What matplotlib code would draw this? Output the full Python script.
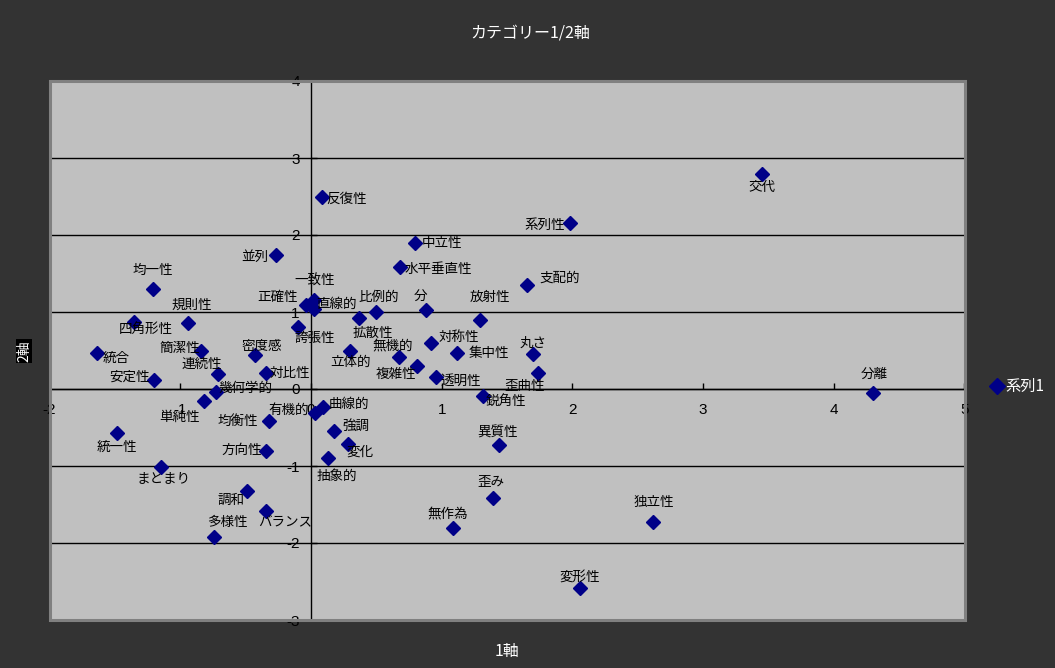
import matplotlib
matplotlib.use("Agg")
import matplotlib.pyplot as plt
from matplotlib.patches import Rectangle
from matplotlib.lines import Line2D

plt.rcParams["axes.unicode_minus"] = False

# --- data -------------------------------------------------------------
terms = [
    "交代", "系列性", "反復性", "中立性", "水平垂直性", "支配的", "並列", "均一性",
    "規則性", "四角形性", "一致性", "正確性", "直線的", "誇張性", "比例的", "拡散性",
    "分", "放射性", "対称性", "集中性", "丸さ", "歪曲性", "無機的", "立体的",
    "複雑性", "透明性", "鋭角性", "密度感", "簡潔性", "統合", "連続性", "対比性",
    "安定性", "幾何学的", "単純性", "均衡性", "有機的", "曲線的", "強調", "変化",
    "抽象的", "統一性", "方向性", "まとまり", "調和", "バランス", "多様性", "異質性",
    "歪み", "無作為", "変形性", "独立性", "分離",
]
axis1 = [
    3.45, 1.98, 0.085, 0.80, 0.68, 1.65, -0.27, -1.21,
    -0.94, -1.35, 0.02, -0.04, 0.02, -0.10, 0.50, 0.37,
    0.88, 1.29, 0.92, 1.12, 1.70, 1.74, 0.67, 0.30,
    0.81, 0.96, 1.32, -0.43, -0.84, -1.64, -0.71, -0.34,
    -1.20, -0.73, -0.82, -0.32, 0.03, 0.09, 0.18, 0.28,
    0.13, -1.48, -0.34, -1.15, -0.49, -0.34, -0.74, 1.44,
    1.39, 1.09, 2.06, 2.62, 4.30,
]
axis2 = [
    2.79, 2.16, 2.50, 1.90, 1.59, 1.35, 1.74, 1.30,
    0.86, 0.87, 1.16, 1.09, 1.04, 0.81, 1.00, 0.92,
    1.03, 0.90, 0.60, 0.47, 0.46, 0.21, 0.42, 0.50,
    0.30, 0.15, -0.09, 0.44, 0.50, 0.47, 0.20, 0.21,
    0.12, -0.04, -0.15, -0.42, -0.31, -0.24, -0.54, -0.72,
    -0.90, -0.57, -0.80, -1.01, -1.33, -1.59, -1.92, -0.73,
    -1.41, -1.80, -2.58, -1.73, -0.05,
]
series_name = "系列1"
x_ticks = [-2, -1, 0, 1, 2, 3, 4, 5]
y_ticks = [-3, -2, -1, 0, 1, 2, 3, 4]

# label placement relative to each point (pixels, x right / y down)
label_offsets = [
    (0, 13), (-25, 2), (25, 2), (27, 0), (39, 2), (33, -7), (-21, 2), (0, -19),
    (4, -18), (11, 7), (1, -19), (-28, -8), (23, -5), (17, 11), (2, -15), (14, 15),
    (-6, -13), (10, -23), (28, -6), (32, 0), (0, -11), (-14, 13), (-6, -11), (0, 11),
    (-21, 8), (24, 3), (22, 5), (7, -9), (-21, -3), (20, 5), (-16, -10), (23, 0),
    (-25, -3), (30, -4), (-24, 16), (-31, 0), (-26, -3), (26, -4), (21, -5), (12, 7),
    (9, 18), (-1, 14), (-25, -1), (3, 11), (-16, 8), (19, 10), (13, -15), (-2, -13),
    (-2, -16), (-6, -14), (-1, -11), (0, -20), (1, -19),
]

# --- figure -----------------------------------------------------------
W, H = 1055, 668
fig = plt.figure(figsize=(W / 100, H / 100), dpi=100, facecolor="#333333")
ax = fig.add_axes([49.5 / W, 48 / H, 915 / W, 539 / H])
ax.set_facecolor("#C0C0C0")
ax.set_xlim(-2, 5)
ax.set_ylim(-3, 4)

cjk = ["Noto Sans CJK JP", "DejaVu Sans"]
num_font = ["Liberation Sans", "DejaVu Sans"]
navy = "#000088"

# horizontal grid
for yv in y_ticks:
    ax.axhline(yv, color="black", lw=1.0, zorder=1)

# axes crossing at the origin
ax.spines["left"].set_position(("data", 0))
ax.spines["bottom"].set_position(("data", 0))
ax.spines["top"].set_visible(False)
ax.spines["right"].set_visible(False)
for s in ("left", "bottom"):
    ax.spines[s].set_color("black")
    ax.spines[s].set_linewidth(1.0)
    ax.spines[s].set_zorder(2)

ax.set_xticks(x_ticks)
ax.set_yticks(y_ticks)
ax.set_xticklabels([str(v) for v in x_ticks], fontfamily=num_font)
ax.set_yticklabels([str(v) for v in y_ticks], fontfamily=num_font)
ax.tick_params(axis="x", direction="in", length=4, width=1, pad=10,
               labelsize=11, colors="black")
ax.tick_params(axis="y", direction="in", length=4, width=1, pad=8,
               labelsize=11, colors="black")

# plot-area border
ax.add_patch(Rectangle((0, 0), 1, 1, transform=ax.transAxes, fill=False,
                       edgecolor="#808080", lw=2.2, clip_on=False, zorder=5))

# points
ax.plot(axis1, axis2, linestyle="none", marker="D", markersize=7.5,
        color=navy, markeredgecolor=navy, zorder=4, clip_on=False)

# point labels
for name, xv, yv, (dx, dy) in zip(terms, axis1, axis2, label_offsets):
    ax.annotate(name, (xv, yv), xytext=(dx, -dy), textcoords="offset pixels",
                ha="center", va="center", fontsize=9.75, color="black",
                family=cjk, zorder=6)

# titles
fig.text(530 / W, 1 - 33 / H, "カテゴリー1/2軸", color="white", fontsize=11.5,
         ha="center", va="center", family=cjk)
fig.text(507 / W, 1 - 651 / H, "1軸", color="white", fontsize=11.5,
         ha="center", va="center", family=cjk)
fig.text(24 / W, 1 - 351 / H, "2軸", color="white", fontsize=10, rotation=90,
         ha="center", va="center", family=cjk,
         bbox=dict(boxstyle="square,pad=0.1", facecolor="black", edgecolor="none"))

# legend
fig.add_artist(Line2D([997 / W], [1 - 386 / H], transform=fig.transFigure,
                      marker="D", markersize=8, color=navy, linestyle="none"))
fig.text(1005 / W, 1 - 386 / H, series_name, color="white", fontsize=11,
         ha="left", va="center", family=cjk)

fig.savefig("out.png", dpi=100, facecolor=fig.get_facecolor())
